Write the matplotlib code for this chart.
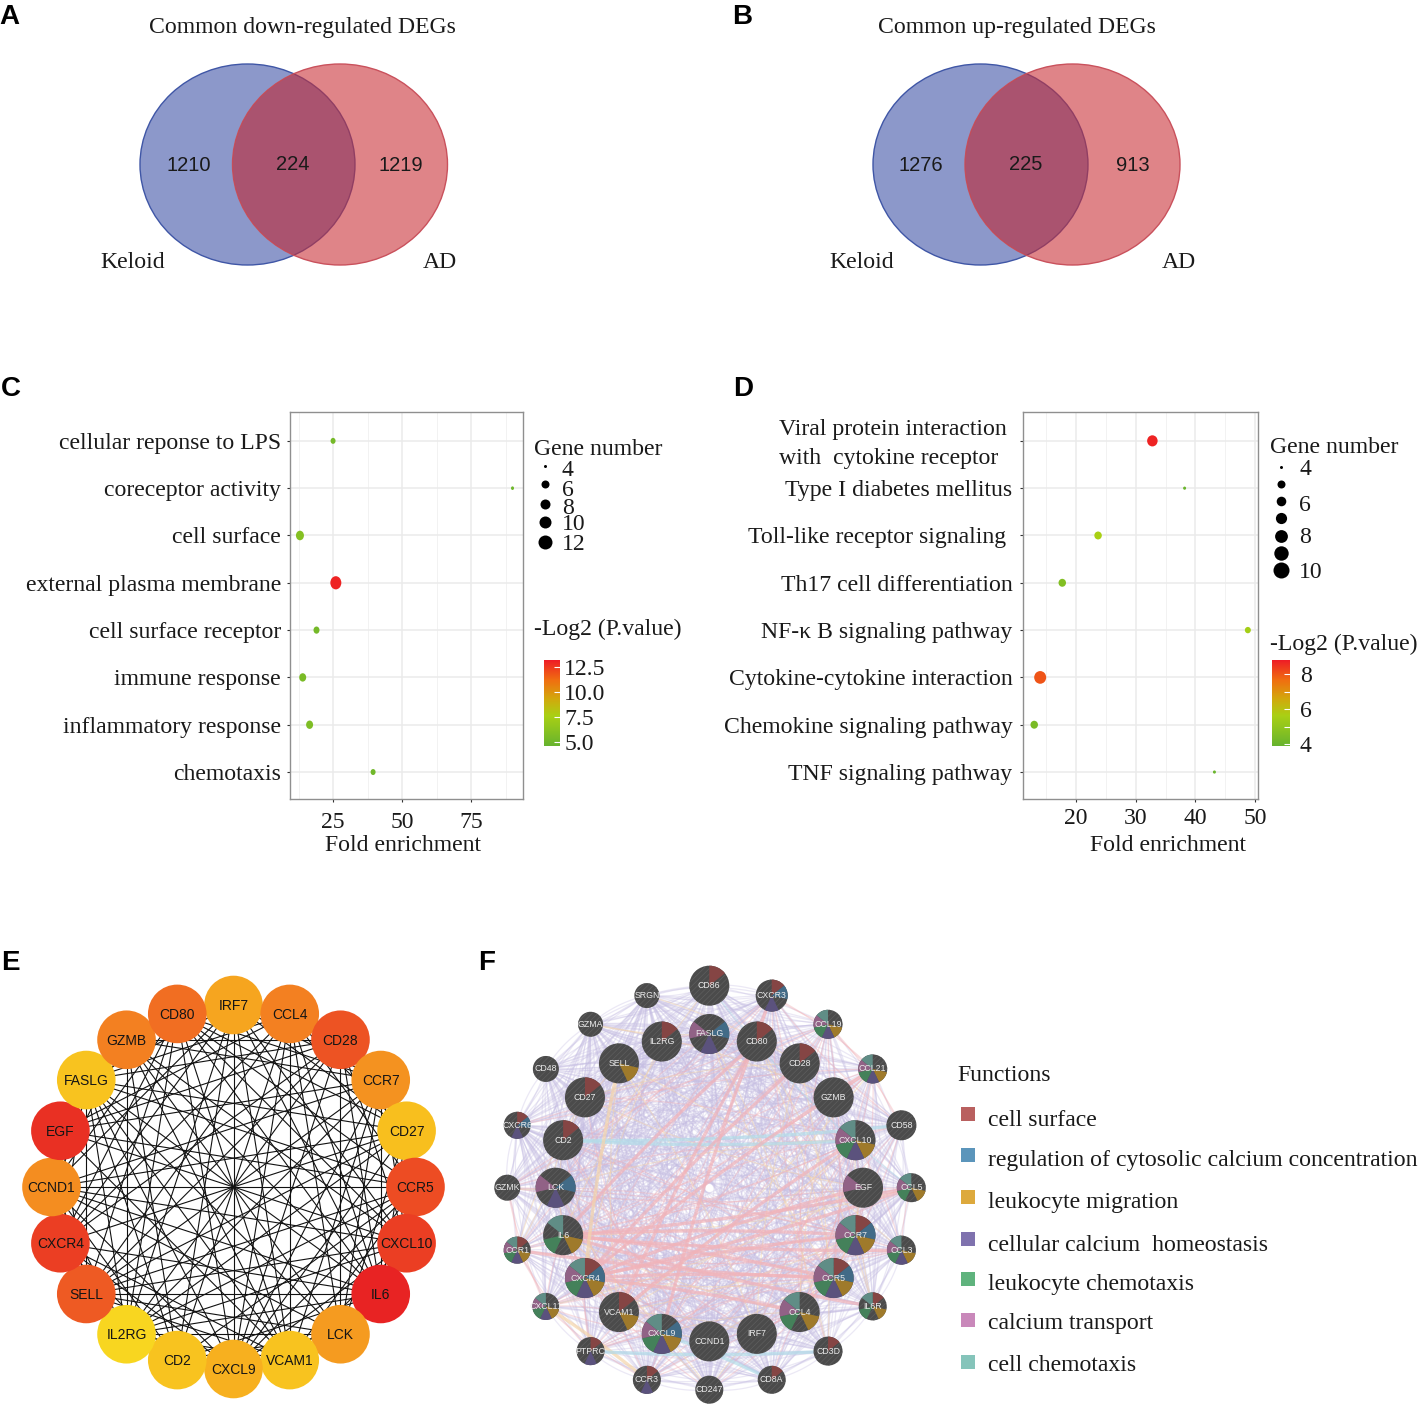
# libraries
import numpy as np
import matplotlib
matplotlib.use("Agg")
import matplotlib.pyplot as plt
from matplotlib.colors import LinearSegmentedColormap, Normalize, to_rgb
from matplotlib.collections import LineCollection
from matplotlib.markers import MarkerStyle
from matplotlib.patches import Circle, Ellipse, Wedge
from matplotlib.transforms import Affine2D, ScaledTranslation

# Data
venn_a = [1210, 224, 1219]
venn_b = [1276, 225, 913]

c_terms = ["cellular reponse to LPS", "coreceptor activity", "cell surface", "external plasma membrane",
           "cell surface receptor", "immune response", "inflammatory response", "chemotaxis"]
c_fold = [25, 90, 13, 26, 19, 14, 16.5, 39.5]
c_genes = [6, 4, 9, 12, 7, 8, 8, 6]
c_logp = [5.3, 5.0, 6.0, 13.0, 5.3, 5.5, 5.7, 5.1]
c_legend_genes = [4, 6, 8, 10, 12]

d_terms = ["Viral protein interaction\nwith  cytokine receptor", "Type I diabetes mellitus",
           "Toll-like receptor signaling ", "Th17 cell differentiation", "NF-\u03ba B signaling pathway",
           "Cytokine-cytokine interaction", "Chemokine signaling pathway", "TNF signaling pathway"]
d_fold = [32.8, 38.2, 23.7, 17.7, 48.8, 14.0, 13.0, 43.2]
d_genes = [9, 4, 7, 7, 6, 10, 7, 4]
d_logp = [8.7, 4.0, 5.6, 4.6, 5.5, 8.0, 4.4, 4.0]
d_legend_genes = [4, 5, 6, 7, 8, 9, 10]

# panel E, clockwise from the top
e_genes = ["IRF7", "CCL4", "CD28", "CCR7", "CD27", "CCR5", "CXCL10", "IL6", "LCK", "VCAM1",
           "CXCL9", "CD2", "IL2RG", "SELL", "CXCR4", "CCND1", "EGF", "FASLG", "GZMB", "CD80"]
e_score = [26, 30, 33.5, 28, 23.5, 34, 35, 37, 27, 23, 25, 23, 20.5, 33, 35, 28.5, 36, 23, 30, 31.5]
# upper triangle of the interaction table, read by eye
e_edges = ["0111011011110110101", "101101111101101101", "11011101011101110", "0111111011011011",
           "101101011110101", "11011111011101", "0111011011011", "110111110111", "10111010110",
           "0111101111", "110110101", "11110110", "0110111", "111101", "01101", "1011", "110", "11", "1"]

# panel F, inner ring then outer ring, clockwise from the top
f_inner = ["FASLG", "CD80", "CD28", "GZMB", "CXCL10", "EGF", "CCR7", "CCR5", "CCL4", "IRF7",
           "CCND1", "CXCL9", "VCAM1", "CXCR4", "IL6", "LCK", "CD2", "CD27", "SELL", "IL2RG"]
f_outer = ["CD86", "CXCR3", "CCL19", "CCL21", "CD58", "CCL5", "CCL3", "IL6R", "CD3D", "CD8A",
           "CD247", "CCR3", "PTPRC", "CXCL11", "CCR1", "GZMK", "CXCR6", "CD48", "GZMA", "SRGN"]
f_inner_score = [20, 20, 20, 20, 20, 20, 20, 20, 20, 20, 20, 20, 20, 20, 20, 20, 20, 20, 20, 20]
f_outer_score = [20, 16, 14.5, 14.5, 15, 14.5, 14.5, 14, 14.5, 14, 14, 14, 14, 13.5, 13.5, 13, 13.5, 13, 12.5, 12.5]
functions = ["cell surface", "regulation of cytosolic calcium concentration", "leukocyte migration",
             "cellular calcium  homeostasis", "leukocyte chemotaxis", "calcium transport", "cell chemotaxis"]
# which function each gene belongs to, same order as functions
f_inner_member = ["0101010", "1000000", "1000000", "0000000", "0011111", "0000010", "1111111", "1111111",
                  "0010111", "0000000", "0000000", "0111111", "1010000", "1111111", "0010101", "0101010",
                  "1000000", "1000000", "0010000", "1000000"]
f_outer_member = ["1000000", "1101000", "0011111", "0011111", "0000000", "0010111", "0011111", "1010101",
                  "1000000", "1000000", "0000000", "1001000", "1001000", "0011111", "1011111", "0000000",
                  "1101000", "0000000", "0000000", "0000000"]
# network type of each pair: 0 none, 1 co-expression, 2 co-localization, 3 pathway, 4 physical, 5 domains
f_edges = [
    "111011310110112110211011101301110101131",
    "11101311012111121211101113011101110111",
    "1110103110211131110111011301101110113",
    "110131101011011110110111011101110131",
    "12122213123121011112123011221221011",
    "1310111011131011011011010113011101",
    "222123122211110222110111222101110",
    "22312312211011222110112221011101",
    "2031231101112221101122210110101",
    "103112113101101011013100111101",
    "31211210101010110111011101110",
    "2322221011222110111222101111",
    "223213112031101103112101110",
    "22110312221121112221011011",
    "1311131122311113122101101",
    "111101101111011011131111",
    "13111011111101111311111",
    "1111101110111011311111",
    "111110131011110101111",
    "11111011101111011111",
    "1101411110111011111",
    "222011211101221011",
    "22101101121122011",
    "2101101112212011",
    "011011101011111",
    "21011112221011",
    "1101112221011",
    "110111011011",
    "11101011111",
    "1111011111",
    "110101111",
    "12111011",
    "1211011",
    "221011",
    "21011",
    "1011",
    "111",
    "11",
    "1",
]
# the few thick links, read by eye
f_heavy = [("CD2", "CD58", 4), ("CD2", "CXCL10", 4), ("CCR5", "IL6", 2), ("CCR5", "CXCR4", 2), ("CCR7", "CXCR4", 2),
           ("CCR7", "IL6", 2), ("CCL4", "CXCR4", 2), ("CXCL10", "VCAM1", 2), ("EGF", "CXCR4", 2), ("IL6", "CCL5", 2),
           ("CD80", "IL6", 2), ("CD28", "CXCR4", 2), ("IL6", "CCL3", 2), ("CD80", "VCAM1", 2), ("CXCR3", "CXCL9", 2),
           ("CCL21", "CXCR4", 2), ("IL6", "IL6R", 2), ("CCR1", "CCR5", 2), ("CCR3", "CXCL11", 3), ("CXCR4", "CCL5", 2),
           ("SELL", "CXCR4", 3), ("PTPRC", "CD3D", 4), ("CD8A", "CXCL9", 4)]

W, H = 1427, 1416
SERIF = "Liberation Serif"
SANS = "Liberation Sans"
FS = 17.1
INK = "#1a1a1a"

plt.rcParams["font.family"] = SERIF
plt.rcParams["hatch.linewidth"] = 0.5

fig = plt.figure(figsize=(W / 100, H / 100), dpi=100)
bubble_cmap = LinearSegmentedColormap.from_list(
    "bubble", [(0, "#66b32e"), (0.35, "#a9d014"), (0.55, "#d2a80c"), (0.76, "#ef7010"), (1, "#ee1c25")])
degree_cmap = LinearSegmentedColormap.from_list(
    "degree", ["#f8d620", "#f8bc1e", "#f59a20", "#f37d21", "#ed5023", "#e82323"])


def px_axes(x0, y0, x1, y1):
    return fig.add_axes([x0 / W, 1 - y1 / H, (x1 - x0) / W, (y1 - y0) / H])


def oval(size):
    # the dots are a bit taller than wide in the original
    return MarkerStyle("o", transform=Affine2D().scale(1, size))


def bubble_panel(box, terms, fold, genes, logp, xlim, xticks, xminor, diam, norm, stretch, label_x, x_pad, y_pad):
    ax = px_axes(*box)
    ypos = np.arange(len(terms))
    sizes = [(diam(g) * 0.72) ** 2 for g in genes]
    sc = ax.scatter(fold, ypos, s=sizes, c=logp, cmap=bubble_cmap, norm=norm, marker=oval(stretch),
                    linewidths=0, zorder=3)
    ax.set_xlim(*xlim)
    ax.set_ylim(len(terms) - 1 + 0.57, -0.61)
    ax.set_xticks(xticks)
    ax.set_xticks(xminor, minor=True)
    ax.set_yticks(ypos)
    ax.set_yticklabels(terms, fontsize=FS, color=INK)
    ax.grid(True, which="major", color="#ebebeb", lw=1.1)
    ax.grid(True, which="minor", axis="x", color="#f2f2f2", lw=0.7)
    ax.set_axisbelow(True)
    ax.tick_params(axis="both", which="major", length=2.5, width=0.8, color="#333333", labelsize=FS)
    ax.tick_params(axis="x", which="minor", length=0)
    ax.tick_params(axis="x", pad=x_pad, labelcolor=INK)
    ax.tick_params(axis="y", pad=y_pad)
    for s in ax.spines.values():
        s.set_color("#8f8f8f")
        s.set_linewidth(1.0)
    ax.set_xlabel("Fold enrichment", fontsize=FS, color=INK, va="center")
    ax.xaxis.set_label_coords(label_x, -0.119)
    return ax, sc


def colorbar_panel(box, sc, ticks, minor, fmt, pad):
    cax = px_axes(*box)
    cb = fig.colorbar(sc, cax=cax, ticks=ticks)
    cb.outline.set_visible(False)
    cb.ax.set_yticklabels([fmt.format(t) for t in ticks], fontsize=FS, color=INK)
    cb.ax.set_yticks(minor, minor=True)
    cb.ax.tick_params(which="both", color="white", direction="in", length=4, width=0.8, pad=pad)
    return cb


# Panels C and D
c_norm = Normalize(4.6, 13.2)
ax_c, sc_c = bubble_panel((290, 412, 523, 799), c_terms, c_fold, c_genes, c_logp, (9.4, 93.8), [25, 50, 75],
                          [12.5, 37.5, 62.5, 87.5], lambda g: g - 1, c_norm, 1.2, 0.485, 6.5, 4)
colorbar_panel((544, 660, 560, 746), sc_c, [5, 7.5, 10, 12.5], [], "{:.1f}", 3)

d_norm = Normalize(3.89, 8.8)
ax_d, sc_d = bubble_panel((1022.7, 412, 1258, 799), d_terms, d_fold, d_genes, d_logp, (11.07, 50.5), [20, 30, 40, 50],
                          [15, 25, 35, 45], lambda g: 1.5 * g - 3, d_norm, 1.06, 0.617, 4, 5)
colorbar_panel((1272, 660, 1290, 746), sc_d, [4, 6, 8], [5, 7], "{:d}", 7)
first = ax_d.get_yticklabels()[0]
first.set_multialignment("left")
first.set_linespacing(1.45)
first.set_transform(first.get_transform() + ScaledTranslation(-0.06, 0.03, fig.dpi_scale_trans))

# everything else is placed in figure pixels on one overlay
ov = fig.add_axes([0, 0, 1, 1], zorder=5)
ov.set_xlim(0, W)
ov.set_ylim(H, 0)
ov.axis("off")
ov.patch.set_alpha(0)


def label(x, y, s, ha="left", **kw):
    # va center sits a little high for these fonts
    kw.setdefault("fontsize", FS)
    kw.setdefault("color", INK)
    ov.text(x, y + 2.5, s, ha=ha, va="center", **kw)


for letter, x, y in [("A", 9, 14), ("B", 742, 14), ("C", 11, 386), ("D", 743, 386), ("E", 10, 960), ("F", 487, 960)]:
    label(x, y, letter, ha="center", family=SANS, weight="bold", fontsize=20, color="black")


# Venn panels
def venn(x_left, x_right, values, title, title_x, keloid_x, ad_x, text_x):
    left = Ellipse((x_left, 164.5), 215, 201, fc=(64 / 255, 84 / 255, 168 / 255, 0.6), ec="#3f56a6", lw=1)
    right = Ellipse((x_right, 164.5), 215, 201, fc=(203 / 255, 50 / 255, 57 / 255, 0.6), ec="#c9515c", lw=1)
    ov.add_patch(left)
    ov.add_patch(right)
    middle = Ellipse((x_right, 164.5), 215, 201, fc=(120 / 255, 40 / 255, 90 / 255, 0.12), ec="none")
    ov.add_patch(middle)
    middle.set_clip_path(left)
    for v, tx, ty in zip(values, text_x, [163, 162, 163]):
        label(tx + 0.5, ty, str(v), ha="center", family=SANS, fontsize=14.5)
    label(title_x, 25, title, ha="center")
    label(keloid_x, 260, "Keloid", ha="center")
    label(ad_x, 260, "AD", ha="center")


venn(247.5, 340, venn_a, "Common down-regulated DEGs", 302, 133, 440, [188, 292, 400])
venn(980.5, 1072.5, venn_b, "Common up-regulated DEGs", 1017, 862, 1179, [920, 1025, 1132])


# Gene number and colour legends
def gene_legend(x_title, y_title, x_dot, dot_y, genes, diam, x_text, labels):
    label(x_title, y_title, "Gene number")
    for g, y in zip(genes, dot_y):
        ov.scatter([x_dot], [y], s=(diam(g) * 0.72) ** 2, color="black", linewidths=0)
    for lab, y in labels:
        label(x_text, y, str(lab))


gene_legend(534, 447, 545, [466, 484, 504, 522, 542], c_legend_genes, lambda g: {4: 3}.get(g, g + 2), 562,
            [(4, 468), (6, 488), (8, 506), (10, 522), (12, 542)])
gene_legend(1270, 445, 1281, [467, 484, 501, 518, 536, 553, 570], d_legend_genes, lambda g: {4: 3}.get(g, 1.6 * g),
            1299, [(4, 467), (6, 503), (8, 535), (10, 570)])
label(534, 627, "-Log2 (P.value)")
label(1270, 642, "-Log2 (P.value)")


def ring(n, cx, cy, r):
    ang = np.deg2rad(np.arange(n) * 360 / n)
    return np.column_stack([cx + r * np.sin(ang), cy - r * np.cos(ang)])


def curved(p, q, bend):
    # quadratic curve between two nodes, the network tool draws its links like this
    t = np.linspace(0, 1, 15)[:, None]
    d = q - p
    ctrl = (p + q) / 2 + bend * np.array([-d[1], d[0]])
    return (1 - t) ** 2 * p + 2 * t * (1 - t) * ctrl + t ** 2 * q


# Panel E
e_xy = ring(len(e_genes), 233.5, 1187, 182)
segs = []
for i, row in enumerate(e_edges):
    for j, flag in zip(range(i + 1, len(e_genes)), row):
        if flag == "1":
            segs.append([e_xy[i], e_xy[j]])
ov.add_collection(LineCollection(segs, colors="#111111", linewidths=0.8, zorder=2))
e_norm = Normalize(min(e_score), max(e_score))
for (x, y), gene, score in zip(e_xy, e_genes, e_score):
    ov.add_patch(Circle((x, y), 29.3, fc=degree_cmap(e_norm(score)), ec="none", zorder=3))
    ov.text(x, y + 1, gene, family=SANS, fontsize=10, ha="center", va="center", color="#151515", zorder=4)

# Panel F
f_colors = ["#b9605f", "#5b95bb", "#dda93c", "#7f72ae", "#5fb37d", "#c988ba", "#85c4ba"]
edge_colors = {"1": "#c6bee3", "2": "#f1b3b9", "3": "#f5d5aa", "4": "#b3dde9", "5": "#cfe6c3"}
edge_alpha = {"1": 0.34, "2": 0.42, "3": 0.45, "4": 0.5, "5": 0.5}
f_genes = f_inner + f_outer
f_xy = np.vstack([ring(20, 709.3, 1187.7, 153.7), ring(20, 709.3, 1187.7, 202)])
f_index = {g: i for i, g in enumerate(f_genes)}
for kind, color in edge_colors.items():
    segs = []
    for i, row in enumerate(f_edges):
        for j, flag in zip(range(i + 1, len(f_genes)), row):
            if flag == kind:
                sign = 1 if (i + j) % 2 else -1
                segs.append(curved(f_xy[i], f_xy[j], sign * 0.07))
                if kind == "1":
                    # co-expression comes from several studies, so most pairs carry a second link
                    segs.append(curved(f_xy[i], f_xy[j], -sign * 0.13))
    ov.add_collection(LineCollection(segs, colors=color, linewidths=0.9, alpha=edge_alpha[kind], zorder=2))
for a, b, kind in f_heavy:
    pts = curved(f_xy[f_index[a]], f_xy[f_index[b]], 0.03)
    ov.plot(pts[:, 0], pts[:, 1], color=edge_colors[str(kind)], lw=2.4, alpha=0.7, zorder=2, solid_capstyle="round")

slice_deg = 360 / len(functions)
for (x, y), gene, score, member in zip(f_xy, f_genes, f_inner_score + f_outer_score, f_inner_member + f_outer_member):
    ov.add_patch(Circle((x, y), score, fc="#4b4b4b", ec="#5e5e5e", lw=0, hatch="//////", zorder=3))
    for k, flag in enumerate(member):
        if flag == "1":
            # the y axis is flipped, so clockwise from the top runs -90, -90 + slice
            dim = tuple(0.72 * c for c in to_rgb(f_colors[k]))
            ov.add_patch(Wedge((x, y), score, -90 + k * slice_deg, -90 + (k + 1) * slice_deg, fc=dim, ec="none",
                               zorder=3.1))
    ov.text(x, y, gene, family=SANS, fontsize=6.3, ha="center", va="center", color="#ececec", zorder=4)

# Functions legend
label(957, 1073, "Functions")
for name, color, y_box, y_text in zip(functions, f_colors, [1114, 1155, 1197, 1239, 1279, 1320, 1362],
                                      [1118, 1158, 1200, 1243, 1282, 1321, 1363]):
    ov.scatter([968], [y_box], marker="s", s=(14 * 0.72) ** 2, color=color, linewidths=0)
    label(988, y_text, name)

fig.savefig("out.png", dpi=100)
